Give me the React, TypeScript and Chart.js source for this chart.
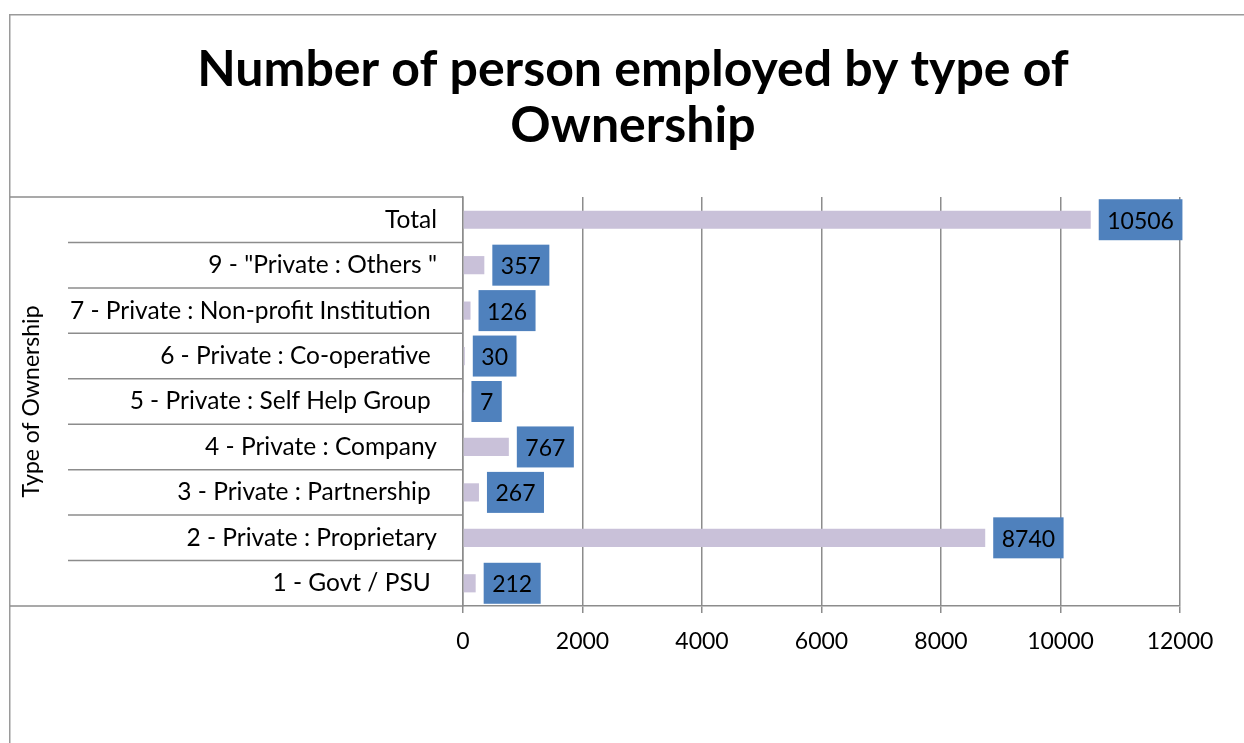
import React, { useEffect, useRef } from 'react';
import { Chart, registerables } from 'chart.js';

Chart.register(...registerables);

const categories = [
  'Total',
  '9 - "Private : Others "',
  '7 - Private : Non-profit Institution ',
  '6 - Private : Co-operative ',
  '5 - Private : Self Help Group ',
  '4 - Private : Company',
  '3 - Private : Partnership ',
  '2 - Private : Proprietary',
  '1 - Govt / PSU ',
];
const employed = [10506, 357, 126, 30, 7, 767, 267, 8740, 212];
const xMin = 0;
const xMax = 12000;
const xStep = 2000;
const titleLines = ['Number of person employed by type of', 'Ownership'];
const yAxisTitle = 'Type of Ownership';

const FONT = 'Lato, "Open Sans", sans-serif';
const GRID = '#8c8c8c';

const framePlugin = {
  id: 'frame',
  beforeDraw(chart: any) {
    const { ctx, width, height } = chart;
    ctx.save();
    ctx.fillStyle = '#ffffff';
    ctx.fillRect(0, 0, width, height);
    ctx.strokeStyle = '#9a9a9a';
    ctx.lineWidth = 1.5;
    ctx.strokeRect(9.75, 14.75, width - 20, height + 20);
    ctx.restore();
  },
  beforeDatasetsDraw(chart: any) {
    const { ctx, chartArea } = chart;
    const y = chart.scales.y;
    ctx.save();
    ctx.strokeStyle = GRID;
    ctx.lineWidth = 1.5;
    const n = categories.length;
    for (let i = 0; i <= n; i++) {
      const py = y.getPixelForValue(i - 0.5);
      const x0 = i === 0 || i === n ? 10 : 68;
      ctx.beginPath();
      ctx.moveTo(x0, py);
      ctx.lineTo(chartArea.left, py);
      ctx.stroke();
    }
    ctx.restore();
  },
};

const boxLabelPlugin = {
  id: 'boxLabels',
  afterDatasetsDraw(chart: any) {
    const { ctx } = chart;
    const meta = chart.getDatasetMeta(0);
    ctx.save();
    ctx.font = `23px ${FONT}`;
    ctx.textAlign = 'center';
    ctx.textBaseline = 'middle';
    meta.data.forEach((bar: any, i: number) => {
      const text = String(employed[i]);
      const w = ctx.measureText(text).width + 17;
      const h = 41;
      const x = bar.x + 8;
      ctx.fillStyle = '#4F81BD';
      ctx.fillRect(x, bar.y - h / 2, w, h);
      ctx.fillStyle = '#000000';
      ctx.fillText(text, x + w / 2, bar.y + 1.5);
    });
    ctx.restore();
  },
};

export default function App() {
  const ref = useRef<HTMLCanvasElement>(null);
  useEffect(() => {
    if (!ref.current) return;
    Chart.defaults.color = '#000';
    const chart = new Chart(ref.current, {
      type: 'bar',
      data: {
        labels: categories,
        datasets: [
          {
            data: employed,
            backgroundColor: '#C9C1D9',
            borderWidth: 0,
            barPercentage: 0.4,
            categoryPercentage: 1,
          },
        ],
      },
      options: {
        indexAxis: 'y',
        animation: false,
        responsive: false,
        layout: { padding: { left: 10, right: 10, top: 0, bottom: 0 } },
        plugins: {
          legend: { display: false },
          tooltip: { enabled: false },
          title: {
            display: true,
            text: titleLines,
            color: '#000',
            font: { family: FONT, size: 50, weight: 'bold', lineHeight: '56px' },
            padding: { top: 42, bottom: 43 },
          },
        },
        scales: {
          x: {
            min: xMin,
            max: xMax,
            ticks: {
              stepSize: xStep,
              font: { family: FONT, size: 23 },
              padding: 15,
              color: '#000',
              callback: (v: any) => String(v),
            },
            grid: { color: GRID, lineWidth: 1.5, tickLength: 7, drawTicks: true },
            border: { color: GRID, width: 1.5 },
            afterFit: (s: any) => {
              s.height = 137;
            },
          },
          y: {
            ticks: { font: { family: FONT, size: 24.5 }, padding: 26, color: '#000' },
            grid: { display: false, drawTicks: false },
            border: { display: true, color: GRID, width: 1.5 },
            title: {
              display: true,
              text: yAxisTitle,
              color: '#000',
              font: { family: FONT, size: 23, lineHeight: 1 },
              padding: { top: 10, bottom: 0 },
            },
            afterFit: (s: any) => {
              s.width = 453;
            },
          },
          yRightSpacer: {
            type: 'linear',
            axis: 'y',
            position: 'right',
            display: true,
            grid: { display: false, drawTicks: false },
            border: { display: false },
            ticks: { display: false },
            afterFit: (s: any) => {
              s.width = 76;
            },
          },
        },
      },
      plugins: [framePlugin, boxLabelPlugin],
    });
    return () => chart.destroy();
  }, []);
  return (
    <div style={{ position: 'fixed', left: 0, top: 0, width: 1244, height: 743, overflow: 'hidden', background: '#fff' }}>
      <canvas ref={ref} width={1266} height={743} style={{ display: 'block' }} />
    </div>
  );
}
